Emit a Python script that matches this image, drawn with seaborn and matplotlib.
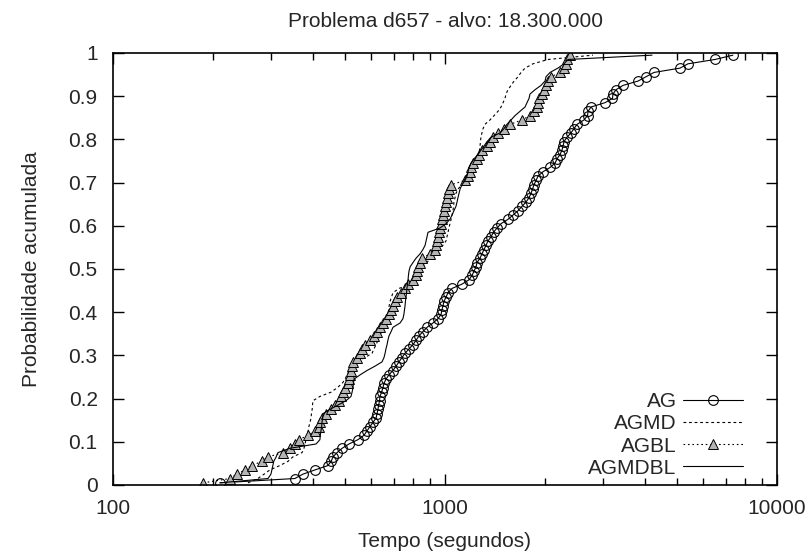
import matplotlib
matplotlib.use("Agg")
import numpy as np
import pandas as pd
import matplotlib.pyplot as plt
import seaborn as sns
from matplotlib.ticker import FixedLocator, FuncFormatter, NullFormatter

# tempos (s) de cada execucao, ordenados
ag_times = [210, 353, 373, 406, 444, 454, 460, 473, 490, 514,
            547, 570, 582, 594, 607, 620, 624, 628, 631, 635,
            637, 644, 650, 655, 664, 678, 697, 712, 727, 742,
            758, 779, 801, 818, 835, 858, 883, 920, 953, 973,
            979, 986, 993, 1007, 1021, 1050, 1125, 1181, 1206, 1223,
            1240, 1249, 1275, 1292, 1311, 1329, 1348, 1376, 1400, 1435,
            1475, 1548, 1603, 1660, 1706, 1754, 1791, 1816, 1835, 1854,
            1880, 1906, 1973, 2072, 2145, 2175, 2221, 2250, 2268, 2283,
            2331, 2396, 2447, 2500, 2622, 2687, 2698, 2753, 3034, 3195,
            3206, 3274, 3437, 3813, 4031, 4261, 5104, 5395, 6506, 7362]

agmd_times = [255, 273, 285, 297, 318, 337, 348, 371, 376, 379,
              381, 384, 387, 389, 392, 395, 396, 398, 399, 400,
              420, 454, 473, 490, 500, 507, 514, 517, 540, 574,
              603, 611, 620, 628, 637, 646, 655, 664, 669, 673,
              676, 679, 683, 690, 697, 727, 785, 807, 824, 835,
              852, 883, 901, 920, 946, 986, 1007, 1014, 1021, 1028,
              1035, 1043, 1050, 1057, 1061, 1064, 1072, 1079, 1094, 1125,
              1165, 1181, 1198, 1206, 1231, 1257, 1266, 1270, 1275, 1279,
              1283, 1292, 1302, 1320, 1366, 1405, 1444, 1475, 1496, 1516,
              1527, 1548, 1581, 1614, 1660, 1694, 1742, 1841, 2043, 2791]

agbl_times = [187, 225, 236, 250, 262, 281, 293, 325, 341, 353,
              363, 387, 406, 417, 420, 426, 438, 454, 466, 479,
              486, 493, 500, 510, 514, 517, 521, 525, 528, 543,
              555, 562, 574, 594, 611, 624, 637, 650, 664, 678,
              688, 697, 707, 717, 737, 758, 774, 801, 818, 824,
              829, 841, 852, 901, 933, 940, 946, 953, 956, 966,
              973, 979, 986, 993, 1000, 1007, 1014, 1021, 1028, 1043,
              1149, 1173, 1189, 1198, 1215, 1249, 1266, 1292, 1339, 1366,
              1396, 1444, 1506, 1570, 1706, 1803, 1854, 1893, 1900, 1913,
              1960, 1987, 2015, 2043, 2086, 2221, 2283, 2315, 2330, 2380]

agmdbl_times = [210, 293, 299, 301, 303, 305, 310, 314, 341, 409,
                420, 421, 423, 425, 426, 428, 429, 450, 476, 503,
                521, 525, 528, 530, 532, 555, 582, 615, 646, 655,
                660, 664, 669, 673, 678, 688, 697, 732, 747, 752,
                755, 758, 760, 763, 766, 768, 771, 774, 776, 779,
                785, 801, 818, 841, 858, 871, 877, 883, 889, 966,
                1007, 1035, 1050, 1064, 1079, 1087, 1094, 1102, 1110, 1125,
                1149, 1165, 1173, 1181, 1198, 1223, 1257, 1283, 1311, 1339,
                1376, 1465, 1506, 1537, 1581, 1625, 1682, 1742, 1766, 1791,
                1803, 1867, 1946, 2001, 2015, 2072, 2188, 2283, 2347, 4203]

series_names = ["AG", "AGMD", "AGBL", "AGMDBL"]
title_text = "Problema d657 - alvo: 18.300.000"


def ttt_frame(name, times):
    t = np.sort(np.array(times, dtype=float))
    n = len(t)
    p = (np.arange(1, n + 1) - 0.5) / n
    return pd.DataFrame({"tempo": t, "prob": p, "algoritmo": name})


df = pd.concat([ttt_frame(n, t) for n, t in
                zip(series_names, [ag_times, agmd_times, agbl_times, agmdbl_times])],
               ignore_index=True)

sns.set_theme(style="white")
plt.rcParams["font.family"] = ["Liberation Sans", "DejaVu Sans"]
fs = 15

fig = plt.figure(figsize=(8.09, 5.54), dpi=100)
ax = fig.add_axes([113 / 809, 1 - 485 / 554, 664 / 809, 432 / 554])

styles = {
    "AG": dict(linestyle="-", marker="o", markersize=7, markerfacecolor="none",
               markeredgecolor="black", markeredgewidth=0.8),
    "AGMD": dict(linestyle=(0, (2.5, 2.5))),
    "AGBL": dict(linestyle=(0, (1.5, 2.5)), marker="^", markersize=7,
                 markerfacecolor="#b4b4b4", markeredgecolor="black", markeredgewidth=0.7),
    "AGMDBL": dict(linestyle="-"),
}

for name in series_names:
    sub = df[df["algoritmo"] == name]
    sns.lineplot(data=sub, x="tempo", y="prob", ax=ax, color="black",
                 linewidth=0.8, label=name, estimator=None, sort=False,
                 **styles[name])

ax.set_xscale("log")
ax.set_xlim(100, 10000)
ax.set_ylim(0, 1)
ax.xaxis.set_major_locator(FixedLocator([100, 1000, 10000]))
ax.xaxis.set_major_formatter(FuncFormatter(lambda v, p: "%d" % v))
ax.xaxis.set_minor_locator(FixedLocator([k * 10 ** e for e in (2, 3) for k in range(2, 10)]))
ax.xaxis.set_minor_formatter(NullFormatter())
ax.yaxis.set_major_locator(FixedLocator(np.round(np.arange(0, 1.01, 0.1), 1)))
ax.yaxis.set_major_formatter(FuncFormatter(lambda v, p: "%g" % v))

ax.tick_params(which="both", direction="in", top=True, right=True,
               bottom=True, left=True, color="black", labelsize=fs)
ax.tick_params(which="major", length=8, width=1)
ax.tick_params(which="minor", length=5, width=1)
ax.tick_params(axis="x", pad=10)
ax.tick_params(axis="y", pad=11)
for sp in ax.spines.values():
    sp.set_color("black")
    sp.set_linewidth(1.2)

ax.set_xlabel("Tempo (segundos)", fontsize=fs, labelpad=10)
ax.set_ylabel("Probabilidade acumulada", fontsize=fs, labelpad=20)
ax.set_title(title_text, fontsize=fs, pad=19)

leg = ax.legend(loc="lower right", bbox_to_anchor=(0.968, -0.012), frameon=False,
                markerfirst=False, fontsize=fs, handlelength=2.9,
                labelspacing=0.15, borderpad=0.1, handletextpad=0.3)

fig.savefig("out.png", dpi=100)
